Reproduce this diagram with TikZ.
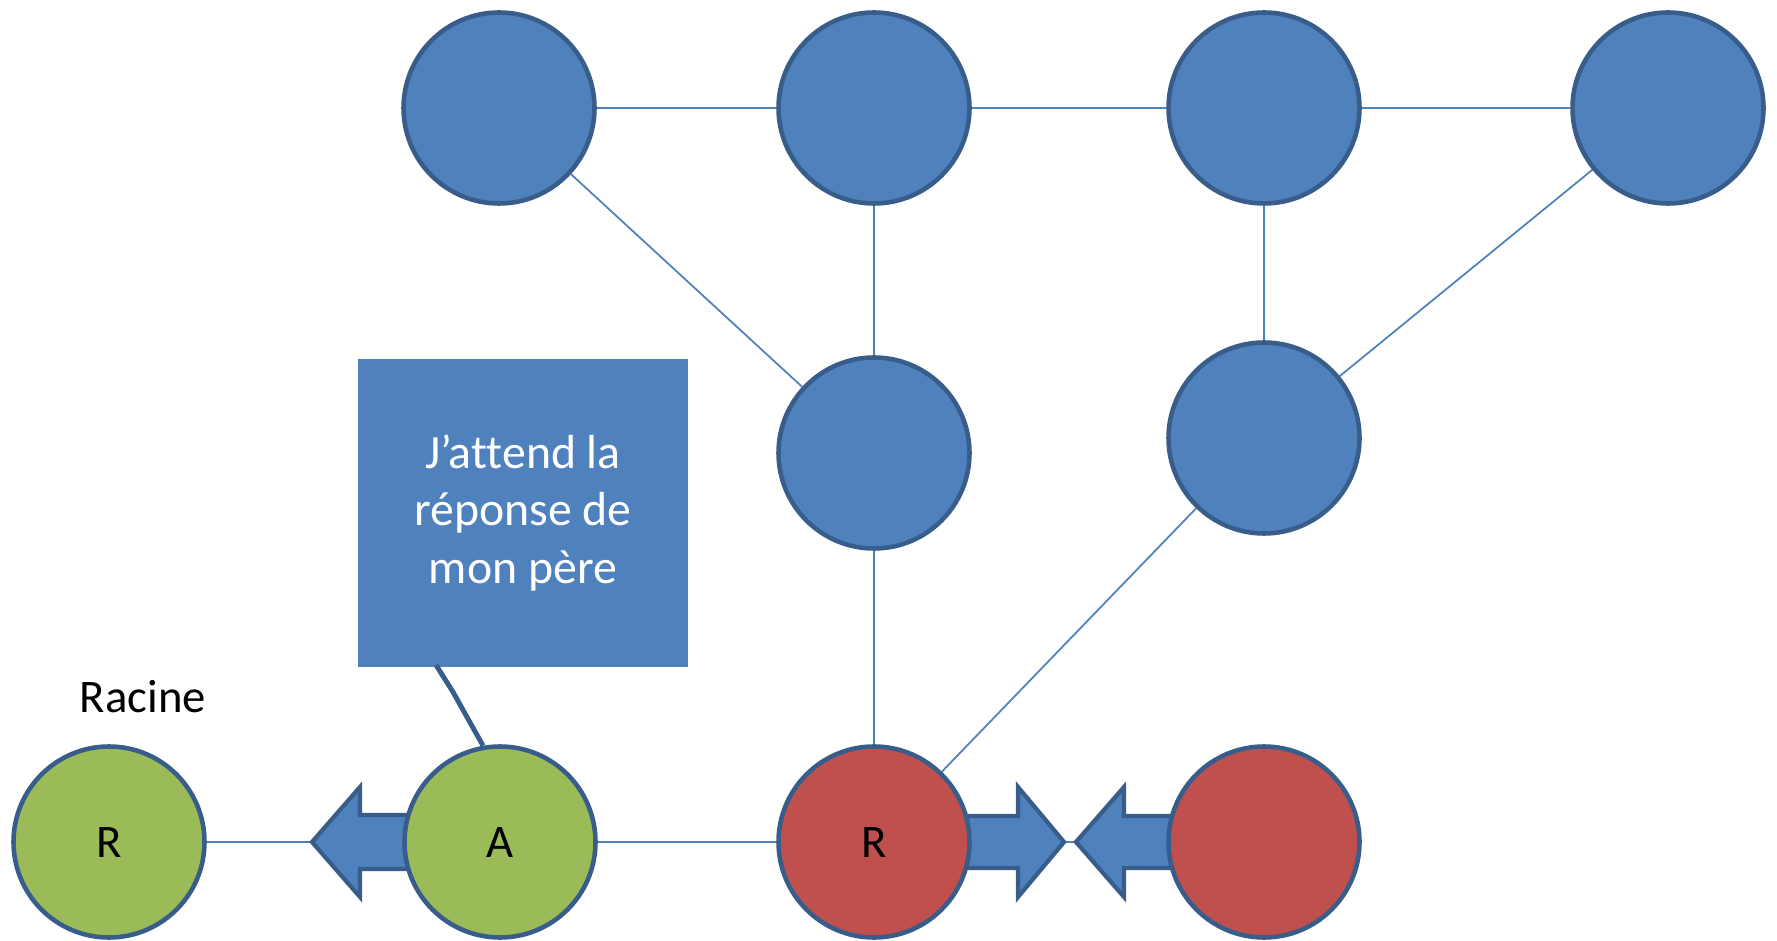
\documentclass[tikz,border=0pt]{standalone}
\usepackage{fontspec}
\setmainfont{Carlito}[Ligatures=NoCommon]
\usetikzlibrary{backgrounds}
\definecolor{nodeblue}{HTML}{4F81BD}
\definecolor{rimblue}{HTML}{385D8A}
\definecolor{leafgreen}{HTML}{9BBB59}
\definecolor{rootred}{HTML}{C0504D}
\begin{document}
\begin{tikzpicture}[x=0.1mm, y=-0.1mm,
    site/.style={circle, draw=rimblue, line width=1.3pt, fill=nodeblue,
        minimum size=19.1mm, inner sep=0pt, font=\fontsize{13.3}{16}\selectfont},
    green site/.style={site, fill=leafgreen},
    red site/.style={site, fill=rootred},
    link/.style={draw=nodeblue, line width=0.5pt},
    blockarrow/.style={draw=rimblue, line width=1.2pt, fill=nodeblue, line join=miter}]
    \useasboundingbox (0,0) rectangle (1777,941);

    % Top row
    \foreach \n/\x in {t1/499, t2/874, t3/1264, t4/1668} {
        \node[site] (\n) at (\x,108) {};
    }

    % Middle row
    \node[site] (m1) at (874,453) {};
    \node[site] (m2) at (1264,438) {};

    % Bottom row
    \node[green site] (root) at (109,842) {R};
    \node[green site] (A) at (500,842) {A};
    \node[red site] (R) at (874,842) {R};
    \node[red site] (S) at (1264,842) {};
    \node[font=\fontsize{13.3}{16}\selectfont] (racine) at (143,697) {Racine};

    % Links and arrows
    \begin{scope}[on background layer]
        \foreach \a/\b in {t1/t2, t2/t3, t3/t4, t1/m1, t2/m1, t3/m2, t4/m2,
                           m1/R, m2/R, root/A, A/R, R/S} {
            \draw[link] (\a) -- (\b);
        }
        \draw[blockarrow] (312,842) -- (360,787) -- (360,815) -- (415,815)
            -- (415,869) -- (360,869) -- (360,897) -- cycle;
        \draw[blockarrow] (965,816) -- (1018,816) -- (1018,787) -- (1064,842)
            -- (1018,897) -- (1018,868) -- (965,868) -- cycle;
        \draw[blockarrow] (1076,842) -- (1124,787) -- (1124,816) -- (1175,816)
            -- (1175,868) -- (1124,868) -- (1124,897) -- cycle;
    \end{scope}

    % Callout
    \node[fill=nodeblue, text=white, align=center, minimum width=33mm,
        minimum height=30.8mm, inner sep=0pt,
        font=\fontsize{13.6}{16.5}\selectfont] (note) at (523,513)
        {J’attend la\\réponse de\\mon père};
    \coordinate (tailstart) at (436,665);
    \coordinate (bend) at (453,692);
    \draw[rimblue, line width=1.4pt] (tailstart) -- (bend) -- (A.100);
\end{tikzpicture}
\end{document}
